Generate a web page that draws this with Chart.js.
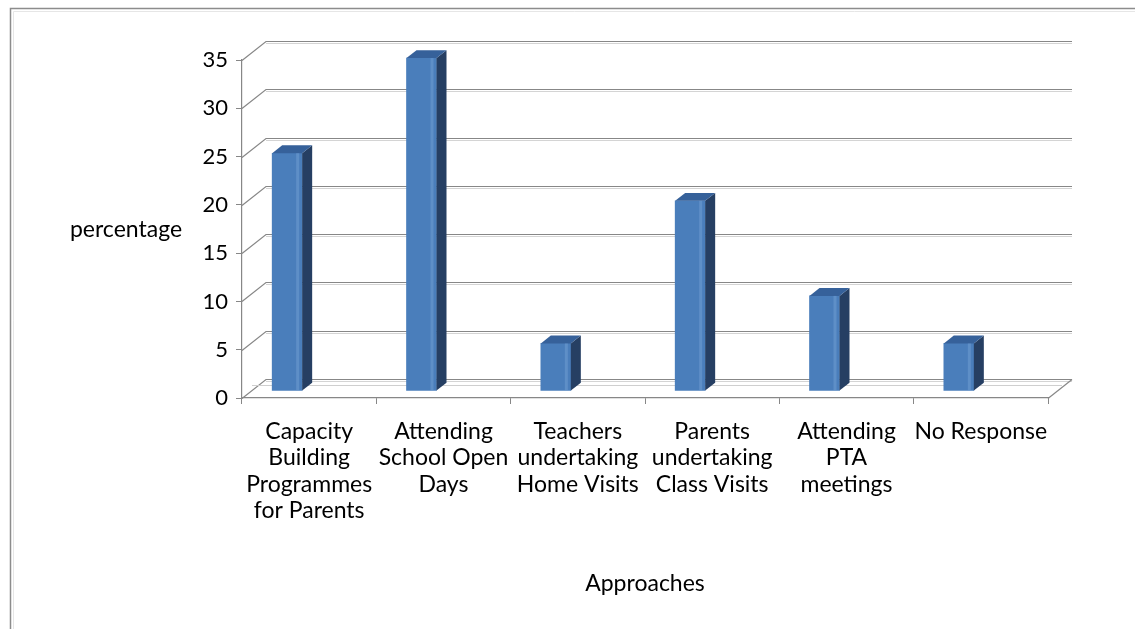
<!DOCTYPE html>
<html>
<head>
<meta charset="utf-8">
<script src="https://cdn.jsdelivr.net/npm/chart.js@4/dist/chart.umd.min.js"></script>
<style>
  html, body { margin: 0; padding: 0; background: #ffffff; }
  #wrap { width: 1135px; height: 629px; position: relative; }
</style>
</head>
<body>
<div id="wrap"><canvas id="c" width="1135" height="629"></canvas></div>
<script>
// ---- data ----
const categories = [
  ['Capacity', 'Building', 'Programmes', 'for Parents'],
  ['Attending', 'School Open', 'Days'],
  ['Teachers', 'undertaking', 'Home Visits'],
  ['Parents', 'undertaking', 'Class Visits'],
  ['Attending', 'PTA', 'meetings'],
  ['No Response']
];
const percentages = [25, 35, 5, 20, 10, 5];
const yTickValues = [0, 5, 10, 15, 20, 25, 30, 35];
const yAxisTitle = 'percentage';
const xAxisTitle = 'Approaches';

// ---- styling ----
const FONT = 'Lato, "Liberation Sans", sans-serif';
const GRID = '#878787';
const DEPTH_X = 24, DEPTH_Y = 19;     // back wall offset
const BAR_DX = 10, BAR_DY = 8;        // bar depth faces
const BAR_SHIFT_X = -22, BAR_SHIFT_Y = -7, BAR_SCALE_Y = 0.985;

const depth3d = {
  id: 'depth3d',
  beforeDraw(chart) {
    const ctx = chart.ctx;
    ctx.save();
    ctx.fillStyle = '#ffffff';
    ctx.fillRect(0, 0, chart.width, chart.height);
    // outer frame (top & left)
    ctx.strokeStyle = '#8c8c8c';
    ctx.lineWidth = 1.5;
    ctx.beginPath();
    ctx.moveTo(10.5, chart.height); ctx.lineTo(10.5, 8.5); ctx.lineTo(chart.width, 8.5);
    ctx.stroke();
    ctx.strokeStyle = '#e6e6e6';
    ctx.lineWidth = 1;
    ctx.beginPath();
    ctx.moveTo(13.5, chart.height); ctx.lineTo(13.5, 11.5); ctx.lineTo(chart.width, 11.5);
    ctx.stroke();
    // horizontal axis title on the left
    ctx.fillStyle = '#000';
    ctx.font = '23px ' + FONT;
    ctx.textAlign = 'center';
    ctx.textBaseline = 'middle';
    ctx.fillText(yAxisTitle, 126, 230);
    ctx.restore();
  },
  beforeDatasetsDraw(chart) {
    const ctx = chart.ctx;
    const y = chart.scales.y, x = chart.scales.x;
    const L = x.left, R = x.right;
    ctx.save();
    y.ticks.forEach(t => {
      const py = Math.round(y.getPixelForValue(t.value)) + 0.5;
      ctx.strokeStyle = '#d4d4d4';
      ctx.lineWidth = 1;
      ctx.beginPath();
      ctx.moveTo(L + DEPTH_X, py - DEPTH_Y + 2);
      ctx.lineTo(R + DEPTH_X, py - DEPTH_Y + 2);
      ctx.stroke();
      ctx.strokeStyle = GRID;
      ctx.lineWidth = 1.2;
      ctx.beginPath();
      ctx.moveTo(L, py);
      ctx.lineTo(L + DEPTH_X, py - DEPTH_Y);
      ctx.lineTo(R + DEPTH_X, py - DEPTH_Y);
      ctx.stroke();
    });
    const p0 = Math.round(y.getPixelForValue(0)) + 0.5;
    ctx.strokeStyle = GRID;
    ctx.beginPath();
    ctx.moveTo(R, p0); ctx.lineTo(R + DEPTH_X, p0 - DEPTH_Y);
    ctx.stroke();
    ctx.strokeStyle = '#cfcfcf';
    ctx.beginPath();
    ctx.moveTo(L + 10, p0 - 13); ctx.lineTo(R + 14, p0 - 13);
    ctx.stroke();
    ctx.restore();

    // projection for bars
    ctx.save();
    ctx.translate(BAR_SHIFT_X, p0 + BAR_SHIFT_Y);
    ctx.scale(1, BAR_SCALE_Y);
    ctx.translate(0, -p0);
  },
  afterDatasetsDraw(chart) {
    const ctx = chart.ctx;
    const meta = chart.getDatasetMeta(0);
    meta.data.forEach(bar => {
      const {x, y, base, width} = bar.getProps(['x', 'y', 'base', 'width'], true);
      const l = x - width / 2, r = x + width / 2;
      ctx.fillStyle = '#263f63';
      ctx.beginPath();
      ctx.moveTo(r, y); ctx.lineTo(r + BAR_DX, y - BAR_DY);
      ctx.lineTo(r + BAR_DX, base - BAR_DY); ctx.lineTo(r, base);
      ctx.closePath(); ctx.fill();
      ctx.fillStyle = '#36619a';
      ctx.beginPath();
      ctx.moveTo(l, y); ctx.lineTo(l + BAR_DX, y - BAR_DY);
      ctx.lineTo(r + BAR_DX, y - BAR_DY); ctx.lineTo(r, y);
      ctx.closePath(); ctx.fill();
      ctx.fillStyle = 'rgba(120,165,215,0.45)';
      ctx.fillRect(r - 6, y, 3, base - y);
    });
    ctx.restore();
  }
};

new Chart(document.getElementById('c'), {
  type: 'bar',
  data: {
    labels: categories,
    datasets: [{
      label: yAxisTitle,
      data: percentages,
      backgroundColor: '#4a7ebb',
      borderWidth: 0,
      barThickness: 30,
      clip: false
    }]
  },
  options: {
    responsive: false,
    animation: false,
    devicePixelRatio: 1,
    layout: { padding: { top: 60, right: 87, bottom: 0, left: 0 } },
    plugins: { legend: { display: false }, tooltip: { enabled: false } },
    scales: {
      x: {
        type: 'category',
        offset: true,
        grid: { offset: true, drawOnChartArea: false, drawTicks: true, tickLength: 6, color: GRID },
        border: { display: true, color: GRID, width: 1.2 },
        ticks: { color: '#000', font: { family: FONT, size: 23, lineHeight: 1.15 }, padding: 14, maxRotation: 0, autoSkip: false },
        title: { display: true, text: xAxisTitle, color: '#000', font: { family: FONT, size: 23, lineHeight: 1.2 }, padding: { top: 0, bottom: 32 } },
        afterFit: s => { s.height = 231; }
      },
      y: {
        min: 0, max: 35,
        afterBuildTicks: s => { s.ticks = yTickValues.map(v => ({ value: v })); },
        grid: { drawOnChartArea: false, drawTicks: true, tickLength: 6, color: GRID },
        border: { display: true, color: GRID, width: 1.2 },
        ticks: { color: '#000', font: { family: FONT, size: 22 }, padding: 8 },
        afterFit: s => { s.width = 242; }
      }
    }
  },
  plugins: [depth3d]
});
</script>
</body>
</html>
